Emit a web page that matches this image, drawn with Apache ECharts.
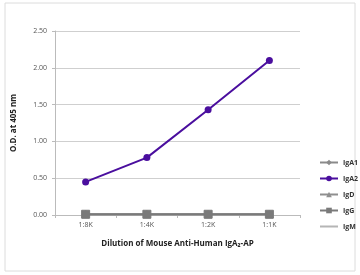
<!DOCTYPE html>
<html>
<head>
<meta charset="utf-8">
<script src="https://cdn.jsdelivr.net/npm/echarts@6/dist/echarts.min.js"></script>
<style>
  html, body { margin: 0; padding: 0; background: #fff; }
  #chart { width: 360px; height: 275px; }
</style>
</head>
<body>
<div id="chart"></div>
<script>
// dilutions on the x axis
const dilutions = ["1:8K", "1:4K", "1:2K", "1:1K"];
const yTicks = [0, 0.5, 1, 1.5, 2, 2.5];

const igA1 = [0.01, 0.01, 0.01, 0.01];
const igA2 = [0.45, 0.78, 1.43, 2.10];
const igD = [0.01, 0.01, 0.01, 0.01];
const igG = [0.01, 0.01, 0.01, 0.01];
const igM = [0.01, 0.01, 0.01, 0.01];

const crossMark = "path://M0,0L10,10M10,0L0,10M5,0L5,10M0,5L10,5";

function grayLine(name, data, color, symbol, size, z) {
  return {
    name: name,
    type: "line",
    data: data,
    symbol: symbol,
    symbolSize: size,
    itemStyle: { color: color, borderColor: color },
    lineStyle: { color: color, width: 2 },
    emphasis: { disabled: true },
    z: z
  };
}

let myChart = echarts.init(document.getElementById("chart"));
myChart.setOption({
  animation: false,
  textStyle: { fontFamily: "Open Sans" },
  graphic: [{
    type: "rect",
    shape: { x: 5, y: 3, width: 350, height: 268 },
    style: { fill: "none", stroke: "#dcdcdc", lineWidth: 1 }
  }],
  grid: { left: 55, right: 60, top: 31, bottom: 60 },
  legend: {
    orient: "vertical",
    left: 314,
    top: 154,
    itemWidth: 18,
    itemHeight: 7,
    itemGap: 9,
    textStyle: { fontSize: 7, fontWeight: "bold", color: "#333" },
    data: ["IgA1", "IgA2", "IgD", "IgG", "IgM"]
  },
  xAxis: {
    type: "category",
    data: dilutions,
    boundaryGap: true,
    name: "Dilution of Mouse Anti-Human IgA₂-AP",
    nameLocation: "middle",
    nameGap: 25,
    nameTextStyle: { fontSize: 8, fontWeight: "bold", color: "#222" },
    axisLine: { lineStyle: { color: "#bbb", width: 1 } },
    axisTick: { show: true, length: 3, lineStyle: { color: "#bbb" } },
    axisLabel: { fontSize: 7, color: "#555", margin: 6 }
  },
  yAxis: {
    type: "value",
    min: yTicks[0],
    max: yTicks[yTicks.length - 1],
    interval: 0.5,
    name: "O.D. at 405 nm",
    nameLocation: "middle",
    nameGap: 37,
    nameTextStyle: { fontSize: 8, fontWeight: "bold", color: "#222" },
    axisLine: { show: true, lineStyle: { color: "#bbb" } },
    axisTick: { show: true, length: 3, lineStyle: { color: "#bbb" } },
    axisLabel: { fontSize: 7, color: "#555", formatter: v => v.toFixed(2) },
    splitLine: { lineStyle: { color: "#cfcfcf" } }
  },
  series: [
    grayLine("IgA1", igA1, "#8a8a8a", "diamond", 7, 2),
    {
      name: "IgA2",
      type: "line",
      data: igA2,
      symbol: "circle",
      symbolSize: 7,
      itemStyle: { color: "#4a0e9e" },
      lineStyle: { color: "#4a0e9e", width: 2 },
      emphasis: { disabled: true },
      z: 5
    },
    grayLine("IgD", igD, "#8f8f8f", "triangle", 7, 2),
    grayLine("IgM", igM, "#b5b5b5", crossMark, 6, 2),
    grayLine("IgG", igG, "#7a7a7a", "rect", 8, 3)
  ]
});
</script>
</body>
</html>
